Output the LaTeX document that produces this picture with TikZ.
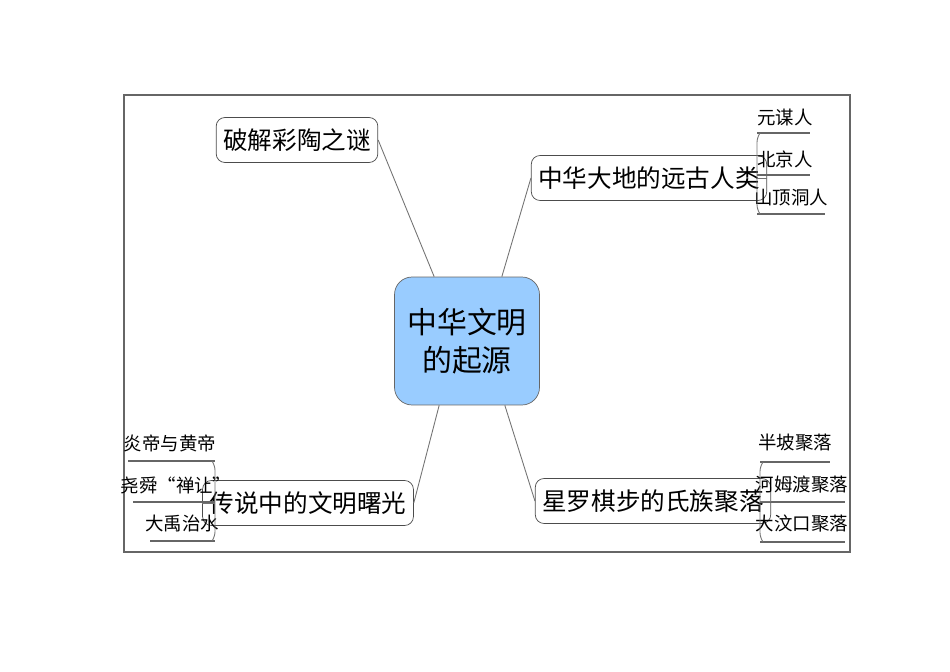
\documentclass[tikz,border=0pt]{standalone}
\usepackage{fontspec}
\newfontfamily\cjk{Noto Sans CJK SC}
\begin{document}
\begin{tikzpicture}[x=0.02cm,y=-0.02cm,
  topic/.style={draw=black!70,rounded corners=5pt,fill=white,font=\cjk\fontsize{14}{16}\selectfont,minimum height=0.9cm,inner sep=4pt},
  leaf/.style={font=\cjk\fontsize{10.5}{12}\selectfont,inner sep=1pt},
  uline/.style={draw=black!60,line width=0.8pt},
  conn/.style={draw=black!55,line width=0.5pt}]
\useasboundingbox (0,0) rectangle (950,672);
\draw[black!60,line width=0.8pt] (124,95) rectangle (850,552);
\node[draw=black!60,rounded corners=10pt,fill={rgb,255:red,153;green,204;blue,255},minimum width=2.9cm,minimum height=2.56cm,align=center,font=\cjk\fontsize{17}{22}\selectfont] (c) at (467,341) {中华文明\\的起源};
\node[topic,minimum width=2.5cm] (tl) at (297,140) {破解彩陶之谜};
\node[topic,minimum width=3.5cm] (tr) at (649,178) {中华大地的远古人类};
\node[topic,minimum width=3.5cm] (br) at (653,501) {星罗棋步的氏族聚落};
\node[topic,minimum width=3.15cm] (bl) at (308,503) {传说中的文明曙光};
\draw[conn] (c.north west)++(40,0) coordinate (c1) -- (tl.east);
\draw[conn] (c.north east)++(-38,0) coordinate (c2) -- (tr.west);
\draw[conn] (c.south east)++(-35,0) coordinate (c3) -- (br.west);
\draw[conn] (c.south west)++(45,0) coordinate (c4) -- (bl.east);
% right top leaves
\node[leaf] (a1) at (785,117) {元谋人};
\node[leaf] (a2) at (785,159) {北京人};
\node[leaf] (a3) at (791,198) {山顶洞人};
\draw[uline] (757,133) -- (810,133);
\draw[uline] (757,175) -- (810,175);
\draw[uline] (757,214) -- (825,214);
\coordinate (j1) at (757,178);
\draw[conn] (tr.east) -- (j1);
\draw[conn,rounded corners=3pt] (760,133) -- (757,137) -- (757,210) -- (760,214);
% right bottom leaves
\node[leaf] (b1) at (795,443) {半坡聚落};
\node[leaf] (b2) at (802,485) {河姆渡聚落};
\node[leaf] (b3) at (802,524) {大汶口聚落};
\draw[uline] (760,462) -- (830,462);
\draw[uline] (760,502) -- (845,502);
\draw[uline] (760,542) -- (845,542);
\coordinate (j2) at (760,501);
\draw[conn] (br.east) -- (j2);
\draw[conn,rounded corners=3pt] (763,462) -- (760,466) -- (760,538) -- (763,542);
% left bottom leaves
\node[leaf] (d1) at (170,443) {炎帝与黄帝};
\node[leaf] (d2) at (176,485) {尧舜“禅让”};
\node[leaf] (d3) at (182,523) {大禹治水};
\draw[uline] (128,461) -- (215,461);
\draw[uline] (133,502) -- (215,502);
\draw[uline] (150,541) -- (215,541);
\coordinate (j3) at (215,503);
\draw[conn] (bl.west) -- (j3);
\draw[conn,rounded corners=3pt] (212,461) -- (215,465) -- (215,537) -- (212,541);
\end{tikzpicture}
\end{document}
